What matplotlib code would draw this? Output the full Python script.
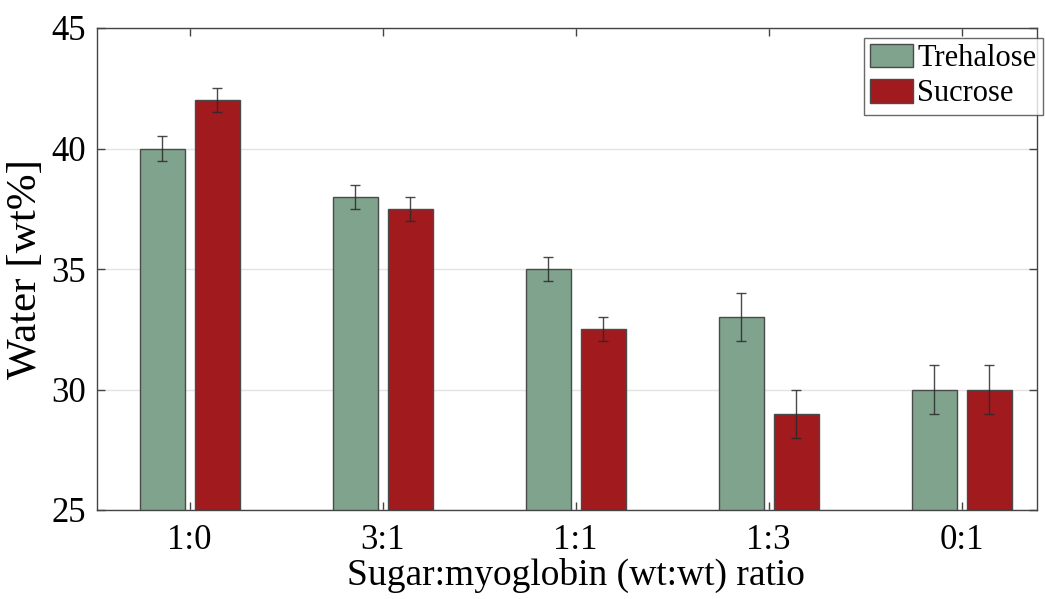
import matplotlib.pyplot as plt
import numpy as np

plt.rcParams["font.family"] = ["Liberation Serif", "DejaVu Serif"]

ratios = ["1:0", "3:1", "1:1", "1:3", "0:1"]
trehalose = [40, 38, 35, 33, 30]
trehalose_err = [0.5, 0.5, 0.5, 1.0, 1.0]
sucrose = [42, 37.5, 32.5, 29, 30]
sucrose_err = [0.5, 0.5, 0.5, 1.0, 1.0]

green = "#7fa38c"
red = "#a01a1e"

x = np.arange(1, len(ratios) + 1)
width = 0.233
off = 0.142

fig = plt.figure(figsize=(10.45, 5.99), dpi=100)
ax = fig.add_axes([97 / 1045, 1 - 510 / 599, 940 / 1045, 482 / 599])

ax.grid(axis="y", color="#e3e3e3", linewidth=1)
ax.set_axisbelow(True)

err_kw = dict(ecolor="#2a2a2a", elinewidth=1, capsize=3.5, capthick=1, alpha=0.85)
ax.bar(x - off, trehalose, width, color=green, edgecolor="#4a4a4a", linewidth=1,
       yerr=trehalose_err, error_kw=err_kw, label="Trehalose")
ax.bar(x + off, sucrose, width, color=red, edgecolor="#4a4a4a", linewidth=1,
       yerr=sucrose_err, error_kw=err_kw, label="Sucrose")

ax.set_xlim(0.52, 5.39)
ax.set_ylim(25, 45)
ax.set_xticks(x)
ax.set_xticklabels(ratios)
ax.set_yticks([25, 30, 35, 40, 45])
ax.tick_params(direction="in", top=True, right=True, labelsize=25,
               length=6, width=1, color="#444444")
ax.tick_params(axis="x", pad=10)
ax.tick_params(axis="y", pad=8)
for s in ax.spines.values():
    s.set_color("#444444")
    s.set_linewidth(1)

ax.set_ylabel("Water [wt%]", fontsize=31)
ax.yaxis.set_label_coords(-0.055, 0.5)
ax.set_xlabel("Sugar:myoglobin (wt:wt) ratio", fontsize=27, labelpad=0)
ax.xaxis.set_label_coords(0.51, -0.1)
ax.xaxis.label.set_va("top")

leg = ax.legend(loc="upper right", bbox_to_anchor=(1.006, 0.98), fontsize=22,
                frameon=True, fancybox=False, edgecolor="#444444",
                handlelength=1.4, handleheight=0.8, handletextpad=0.15,
                borderpad=0.2, labelspacing=0.2, borderaxespad=0)
leg.get_frame().set_linewidth(1)

fig.savefig("out.png", dpi=100)
